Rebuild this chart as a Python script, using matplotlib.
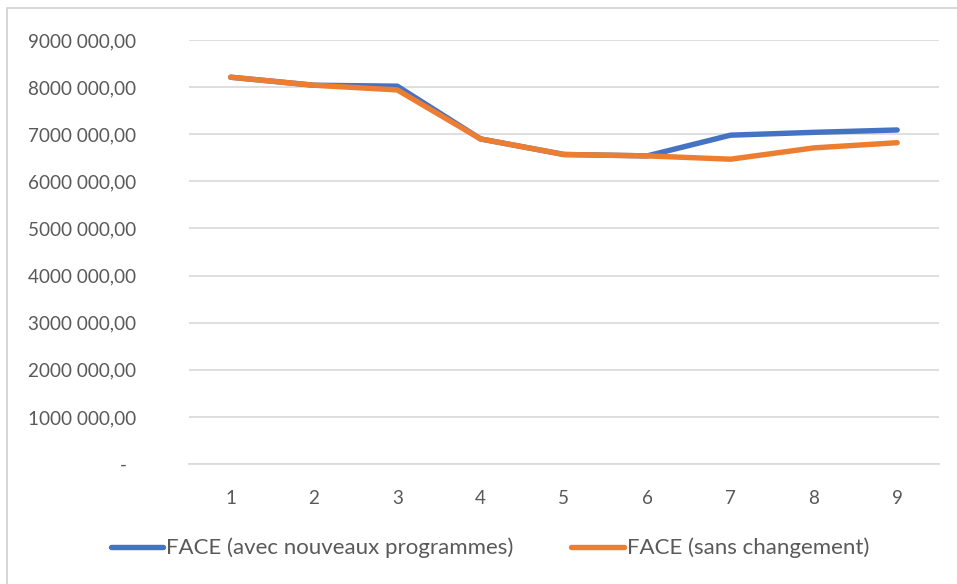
import matplotlib
matplotlib.use('Agg')
import matplotlib.pyplot as plt
from matplotlib.patches import Rectangle

# ── Données ────────────────────────────────────────────────
annees = [1, 2, 3, 4, 5, 6, 7, 8, 9]
face_nouveaux = [8210000, 8040000, 8020000, 6900000, 6570000,
                 6540000, 6980000, 7040000, 7090000]
face_sans = [8210000, 8040000, 7940000, 6900000, 6570000,
             6540000, 6470000, 6710000, 6820000]
y_ticks = [0, 1000000, 2000000, 3000000, 4000000, 5000000,
           6000000, 7000000, 8000000, 9000000]
y_labels = ['-  ', '1000 000,00', '2000 000,00', '3000 000,00',
            '4000 000,00', '5000 000,00', '6000 000,00', '7000 000,00',
            '8000 000,00', '9000 000,00']

plt.rcParams['font.family'] = ['Lato', 'DejaVu Sans']
gris = '#595959'

fig = plt.figure(figsize=(9.57, 5.84), dpi=100)
ax = fig.add_axes([0.1975, 0.2055, 0.7835, 0.726])

# cadre du graphique (bord gauche et haut)
fig.patches.append(Rectangle((7 / 957, -0.1), 1.2, 1 - 8 / 584 + 0.1,
                             transform=fig.transFigure, fill=False,
                             edgecolor='#d0d0d0', linewidth=1.2))

ax.plot(annees, face_nouveaux, color='#4472C4', linewidth=3.9,
        solid_capstyle='round', solid_joinstyle='round',
        label='FACE (avec nouveaux programmes)')
ax.plot(annees, face_sans, color='#ED7D31', linewidth=3.9,
        solid_capstyle='round', solid_joinstyle='round',
        label='FACE (sans changement)')

ax.set_xlim(0.5, 9.5)
ax.set_ylim(0, 9000000)
ax.set_xticks(annees)
ax.set_xticklabels([str(a) for a in annees])
ax.set_yticks(y_ticks)
ax.set_yticklabels(y_labels)
ax.grid(axis='y', color='#d9d9d9', linewidth=1.2)
ax.set_axisbelow(True)
for s in ['top', 'right', 'left']:
    ax.spines[s].set_visible(False)
ax.spines['bottom'].set_color('#d9d9d9')
ax.spines['bottom'].set_linewidth(1.2)
ax.tick_params(axis='both', length=0, labelsize=13.6, labelcolor=gris)
ax.tick_params(axis='y', pad=38)
ax.tick_params(axis='x', pad=19)

leg = fig.legend(loc='center', bbox_to_anchor=(0.512, 1 - 548 / 584), ncol=2,
                 frameon=False, fontsize=16, handlelength=2.35,
                 handletextpad=0.14, columnspacing=2.6)
for t in leg.get_texts():
    t.set_color(gris)

plt.savefig('out.png', dpi=100)
plt.close()
